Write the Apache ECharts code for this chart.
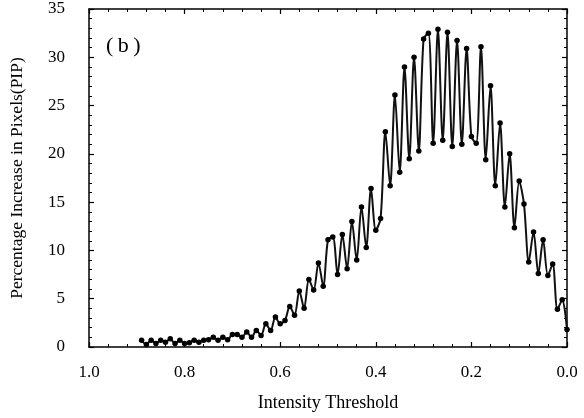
<!DOCTYPE html>
<html>
<head>
<meta charset="utf-8">
<script src="https://cdn.jsdelivr.net/npm/echarts@6/dist/echarts.min.js"></script>
<style>html,body{margin:0;padding:0;background:#fff;}#c{width:584px;height:418px;}</style>
</head>
<body>
<div id="c"></div>
<script>
const thresholds = [0.89,0.88,0.87,0.86,0.85,0.84,0.83,0.82,0.81,0.80,
  0.79,0.78,0.77,0.76,0.75,0.74,0.73,0.72,0.71,0.70,
  0.69,0.68,0.67,0.66,0.65,0.64,0.63,0.62,0.61,0.60,
  0.59,0.58,0.57,0.56,0.55,0.54,0.53,0.52,0.51,0.50,
  0.49,0.48,0.47,0.46,0.45,0.44,0.43,0.42,0.41,0.40,
  0.39,0.38,0.37,0.36,0.35,0.34,0.33,0.32,0.31,0.30,
  0.29,0.28,0.27,0.26,0.25,0.24,0.23,0.22,0.21,0.20,
  0.19,0.18,0.17,0.16,0.15,0.14,0.13,0.12,0.11,0.10,
  0.09,0.08,0.07,0.06,0.05,0.04,0.03,0.02,0.01,0.00];
const pip = [0.7,0.25,0.7,0.35,0.7,0.5,0.85,0.35,0.7,0.35,
  0.45,0.7,0.5,0.7,0.75,1.0,0.7,1.0,0.75,1.3,
  1.3,1.0,1.55,1.0,1.7,1.2,2.4,1.7,3.1,2.4,
  2.75,4.2,3.3,5.8,4.0,7.0,5.9,8.7,6.3,11.1,
  11.4,7.5,11.65,8.1,13.0,9.0,14.5,10.3,16.4,12.1,
  13.3,22.3,16.7,26.1,18.1,29.0,19.5,30.0,20.3,31.9,
  32.5,21.1,32.9,21.4,32.6,20.75,31.75,21.0,30.9,21.8,
  21.1,31.1,19.4,27.05,16.7,23.2,14.5,20.0,12.35,17.2,
  14.8,8.8,11.9,7.6,11.1,7.4,8.6,3.9,4.9,1.8];
const xTicks = [1.0,0.8,0.6,0.4,0.2,0.0];
const yTicks = [0,5,10,15,20,25,30,35];
const panelLabel = '(\u2009b\u2009)';
const xName = 'Intensity Threshold';
const yName = 'Percentage Increase in Pixels(PIP)';

const font = 'Liberation Serif, Times New Roman, serif';
const chart = echarts.init(document.getElementById('c'), null, {renderer: 'canvas'});
const tickCommon = {inside: true, length: 5, lineStyle: {color: '#000', width: 1.2}};
const minorCommon = {show: true, splitNumber: 5, length: 3, lineStyle: {color: '#000', width: 1}};
const xBase = {
  type: 'value', min: xTicks[xTicks.length-1], max: xTicks[0], interval: 0.2, inverse: true,
  axisLine: {show: true, onZero: false, lineStyle: {color: '#000', width: 1.5}},
  axisTick: tickCommon, minorTick: minorCommon, splitLine: {show: false}
};
const yBase = {
  type: 'value', min: yTicks[0], max: yTicks[yTicks.length-1], interval: 5,
  axisLine: {show: true, onZero: false, lineStyle: {color: '#000', width: 1.5}},
  axisTick: tickCommon, minorTick: minorCommon, splitLine: {show: false}
};
chart.setOption({
  animation: false,
  backgroundColor: '#fff',
  grid: {left: 88, right: 17, top: 9, bottom: 71, containLabel: false},
  xAxis: [
    Object.assign({}, xBase, {
      position: 'bottom',
      name: xName, nameLocation: 'middle', nameGap: 47,
      nameTextStyle: {fontFamily: font, fontSize: 18, color: '#000'},
      axisLabel: {margin: 17, fontFamily: font, fontSize: 17, color: '#000',
        formatter: v => v.toFixed(1)}
    }),
    Object.assign({}, xBase, {position: 'top', axisLabel: {show: false}})
  ],
  yAxis: [
    Object.assign({}, yBase, {
      position: 'left',
      name: yName, nameLocation: 'middle', nameGap: 63,
      nameTextStyle: {fontFamily: font, fontSize: 17.5, color: '#000'},
      axisLabel: {margin: 24, fontFamily: font, fontSize: 17, color: '#000'}
    }),
    Object.assign({}, yBase, {position: 'right', axisLabel: {show: false}})
  ],
  graphic: [{
    type: 'text', left: 106, top: 35,
    style: {text: panelLabel, font: '22px ' + font, fill: '#000'}
  }],
  series: [{
    type: 'line',
    data: thresholds.map((t, i) => [t, pip[i]]),
    smooth: 0.3,
    symbol: 'circle', symbolSize: 5.5,
    itemStyle: {color: '#000'},
    lineStyle: {color: '#111', width: 2}
  }]
});
</script>
</body>
</html>
